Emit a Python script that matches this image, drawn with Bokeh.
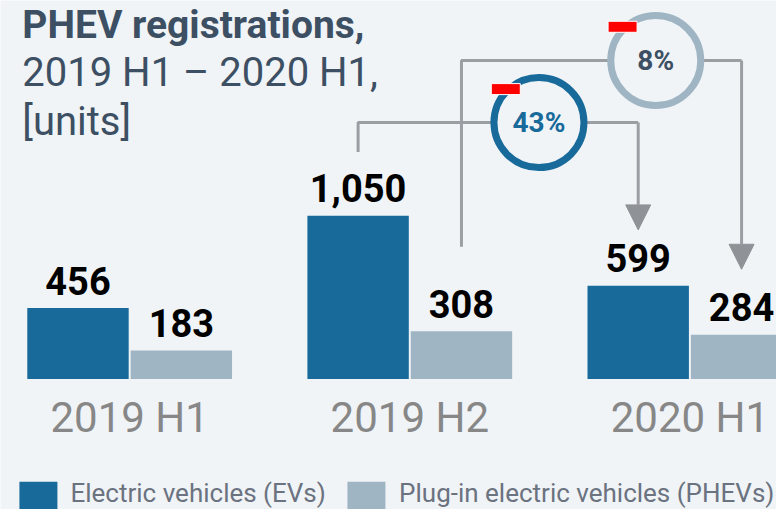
from bokeh.plotting import figure
from bokeh.models import ColumnDataSource, Range1d, Arrow, NormalHead
from bokeh.embed import file_html
from bokeh.resources import INLINE
from bokeh.core.properties import value

# ---- data ----
categories = ["2019 H1", "2019 H2", "2020 H1"]
ev_values = [456, 1050, 599]
phev_values = [183, 308, 284]
series_names = ["Electric vehicles (EVs)", "Plug-in electric vehicles (PHEVs)"]
ev_change_pct = "43%"
phev_change_pct = "8%"
title_line1 = "PHEV registrations,"
title_line2 = "2019 H1 \u2013 2020 H1,"
title_line3 = "[units]"

# ---- style ----
EV_COLOR = "#186a9b"
PHEV_COLOR = "#a0b5c4"
BG = "#f0f4f7"
TITLE_COLOR = "#3d4f63"
GRAY_LINE = "#9b9ea3"
ARROW_COLOR = "#8f9297"
FONT = "Roboto"
FIX = 0.33          # baseline correction (fraction of font size)

W, H = 776, 509
REF_W, REF_H = 784, 517
PX_Y = 0.158        # reference pixels per unit
BASE_Y = 384.5      # reference y of the bar baseline
STEP_X = 283.0      # reference pixels between groups
G0_X = 130.5        # reference x of first group centre


def X(sx):
    return (sx - G0_X) / STEP_X


def Y(sy):
    return (BASE_Y - sy) / PX_Y


def fs(px):
    return f"{px}px"


p = figure(width=W, height=H, output_backend="svg", toolbar_location=None,
           x_range=Range1d(X(0), X(REF_W)), y_range=Range1d(Y(REF_H), Y(0)),
           min_border=0, background_fill_color=BG, border_fill_color=BG,
           outline_line_color=None)
p.axis.visible = False
p.grid.visible = False

DODGE = 0.1845
BAR_W = 0.362
idx = list(range(len(categories)))
ev_x = [i - DODGE for i in idx]
ph_x = [i + DODGE for i in idx]

src = ColumnDataSource(dict(ev_x=ev_x, ph_x=ph_x, ev=ev_values, ph=phev_values,
                            ev_lbl=[f"{v:,}" for v in ev_values],
                            ph_lbl=[f"{v:,}" for v in phev_values],
                            gx=idx, cat=categories))

p.vbar(x="ev_x", top="ev", width=BAR_W, bottom=0, source=src, fill_color=EV_COLOR, line_color=None)
p.vbar(x="ph_x", top="ph", width=BAR_W, bottom=0, source=src, fill_color=PHEV_COLOR, line_color=None)


def txt(x, y, text, size, color, bold=False, align="left", extra=0.0, source=None):
    kw = dict(text_align=align, text_baseline="alphabetic", text_font=value(FONT),
              text_font_size=fs(size), text_color=color, y_offset=-FIX * size + extra)
    if bold:
        kw["text_font_style"] = "bold"
    if source is not None:
        return p.text(x=x, y=y, text=text, source=source, **kw)
    return p.text(x=x, y=y, text=text, **kw)


VAL_FS = 38
txt("ev_x", "ev", "ev_lbl", VAL_FS, "#000000", bold=True, align="center", extra=-15, source=src)
txt("ph_x", "ph", "ph_lbl", VAL_FS, "#000000", bold=True, align="center", extra=-15, source=src)

# category labels
txt("gx", Y(438), "cat", 42, "#878787", align="center", source=src)

# title
txt([X(22)], [Y(38)], [title_line1], 39, TITLE_COLOR, bold=True)
txt([X(22), X(22)], [Y(87), Y(136)], [title_line2, title_line3], 40, TITLE_COLOR)

# connectors
c1_y, c2_y = Y(124), Y(61)
p.line(x=[ev_x[1], ev_x[1], ev_x[2]], y=[Y(154), c1_y, c1_y], line_color=GRAY_LINE, line_width=3)
p.line(x=[ph_x[1], ph_x[1], ph_x[2]], y=[Y(250), c2_y, c2_y], line_color=GRAY_LINE, line_width=3)
p.add_layout(Arrow(end=NormalHead(size=25, fill_color=ARROW_COLOR, line_color=ARROW_COLOR),
                   x_start=ev_x[2], y_start=c1_y, x_end=ev_x[2], y_end=Y(233),
                   line_color=GRAY_LINE, line_width=3))
p.add_layout(Arrow(end=NormalHead(size=25, fill_color=ARROW_COLOR, line_color=ARROW_COLOR),
                   x_start=ph_x[2], y_start=c2_y, x_end=ph_x[2], y_end=Y(273),
                   line_color=GRAY_LINE, line_width=3))

# change circles
cx1, cx2 = X(544), X(662)
p.scatter(x=[cx1], y=[c1_y], size=90, marker="circle", fill_color=BG, line_color=EV_COLOR, line_width=7)
p.scatter(x=[cx2], y=[c2_y], size=90, marker="circle", fill_color=BG, line_color=PHEV_COLOR, line_width=7)
p.rect(x=[X(510.5), X(628.5)], y=[Y(90), Y(26.7)], width=29, height=11, width_units="screen",
       height_units="screen", fill_color="#ff0000", line_color="#ffffff", line_width=1)
txt([cx1], [Y(133.5)], [ev_change_pct], 28, EV_COLOR, bold=True, align="center")
txt([cx2], [Y(70)], [phev_change_pct], 28, TITLE_COLOR, bold=True, align="center")

# legend
p.rect(x=[X(38.3), X(369.7)], y=[Y(507), Y(507)], width=38, height=36, width_units="screen",
       height_units="screen", fill_color=[EV_COLOR, PHEV_COLOR], line_color=None)
txt([X(70.7), X(402.7)], [Y(509), Y(509)], series_names, 26, "#6b7280")

open("out.html", "w").write(file_html(p, INLINE))
